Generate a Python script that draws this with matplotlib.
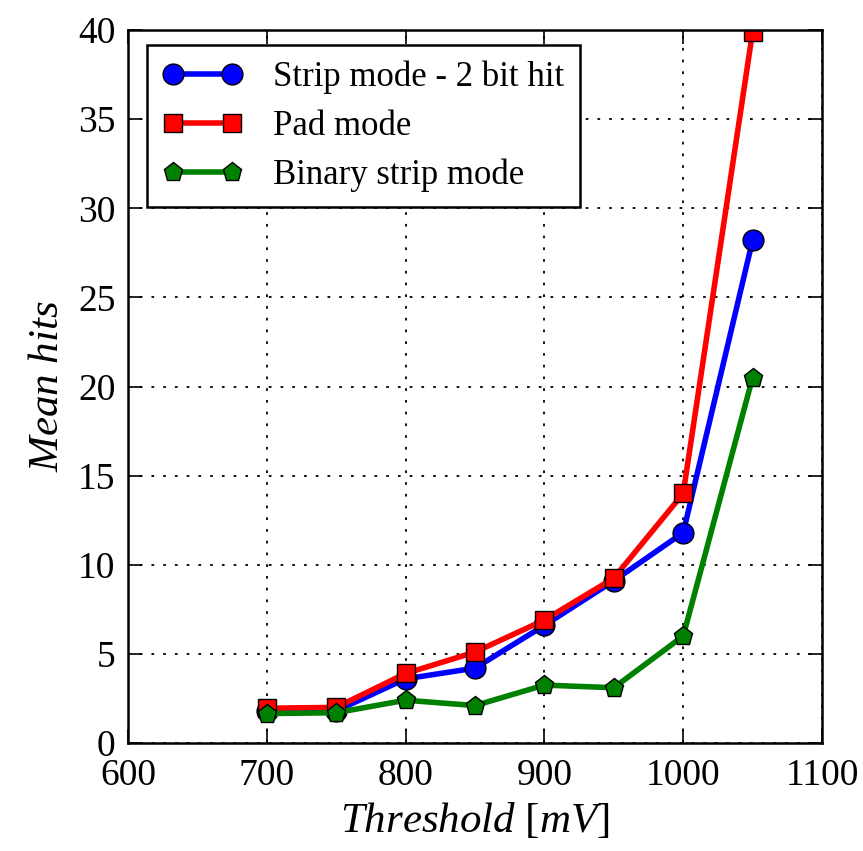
import numpy as np
import matplotlib
matplotlib.use('Agg')
from matplotlib import pyplot as plt

threshold = [700, 750, 800, 850, 900, 950, 1000, 1050]
strip_2bit = [1.8, 1.8, 3.6, 4.2, 6.6, 9.1, 11.8, 28.2]
pad_mode = [1.95, 2.0, 3.9, 5.1, 6.9, 9.25, 14.0, 39.9]
binary_strip = [1.65, 1.7, 2.4, 2.1, 3.25, 3.1, 6.0, 20.5]

plt.rcParams['font.family'] = ['Liberation Serif', 'DejaVu Serif']
plt.rcParams['mathtext.fontset'] = 'custom'
plt.rcParams['mathtext.rm'] = 'Liberation Serif'
plt.rcParams['mathtext.it'] = 'Liberation Serif:italic'
plt.rcParams['font.size'] = 27

fig = plt.figure(figsize=(8.63, 8.51), dpi=100)
ax = fig.add_axes([128/863, 1-743/851, 694/863, 713/851])

ax.plot(threshold, strip_2bit, '-o', color='blue', lw=4, ms=15,
        mec='black', mew=1, label='Strip mode - 2 bit hit')
ax.plot(threshold, pad_mode, '-s', color='red', lw=4, ms=13,
        mec='black', mew=1, label='Pad mode')
ax.plot(threshold, binary_strip, '-p', color='green', lw=4, ms=14,
        mec='black', mew=1, label='Binary strip mode')

ax.set_xlim(600, 1100)
ax.set_ylim(0, 40)
ax.set_xticks(np.arange(600, 1101, 100))
ax.set_yticks(np.arange(0, 41, 5))
ax.grid(True, color='black', linestyle=(0, (1.5, 5)), linewidth=1.3)
ax.tick_params(direction='in', length=10, width=1.2, top=True, right=True, pad=9)
ax.tick_params(axis='x', pad=11)
for s in ax.spines.values():
  s.set_linewidth(1.8)

ax.set_xlabel(r'$Threshold\ [mV]$', fontsize=31, labelpad=6)
ax.set_ylabel(r'$Mean\ hits$', fontsize=31, labelpad=8)

leg = ax.legend(loc='upper left', numpoints=2, fancybox=False, fontsize=25,
                borderpad=0.45, handlelength=2.3, handletextpad=0.9,
                labelspacing=0.45, borderaxespad=0,
                bbox_to_anchor=(0.027, 0.979))
leg.get_frame().set_edgecolor('black')
leg.get_frame().set_linewidth(1.8)
leg.get_frame().set_alpha(1)

fig.savefig('out.png', dpi=100)
